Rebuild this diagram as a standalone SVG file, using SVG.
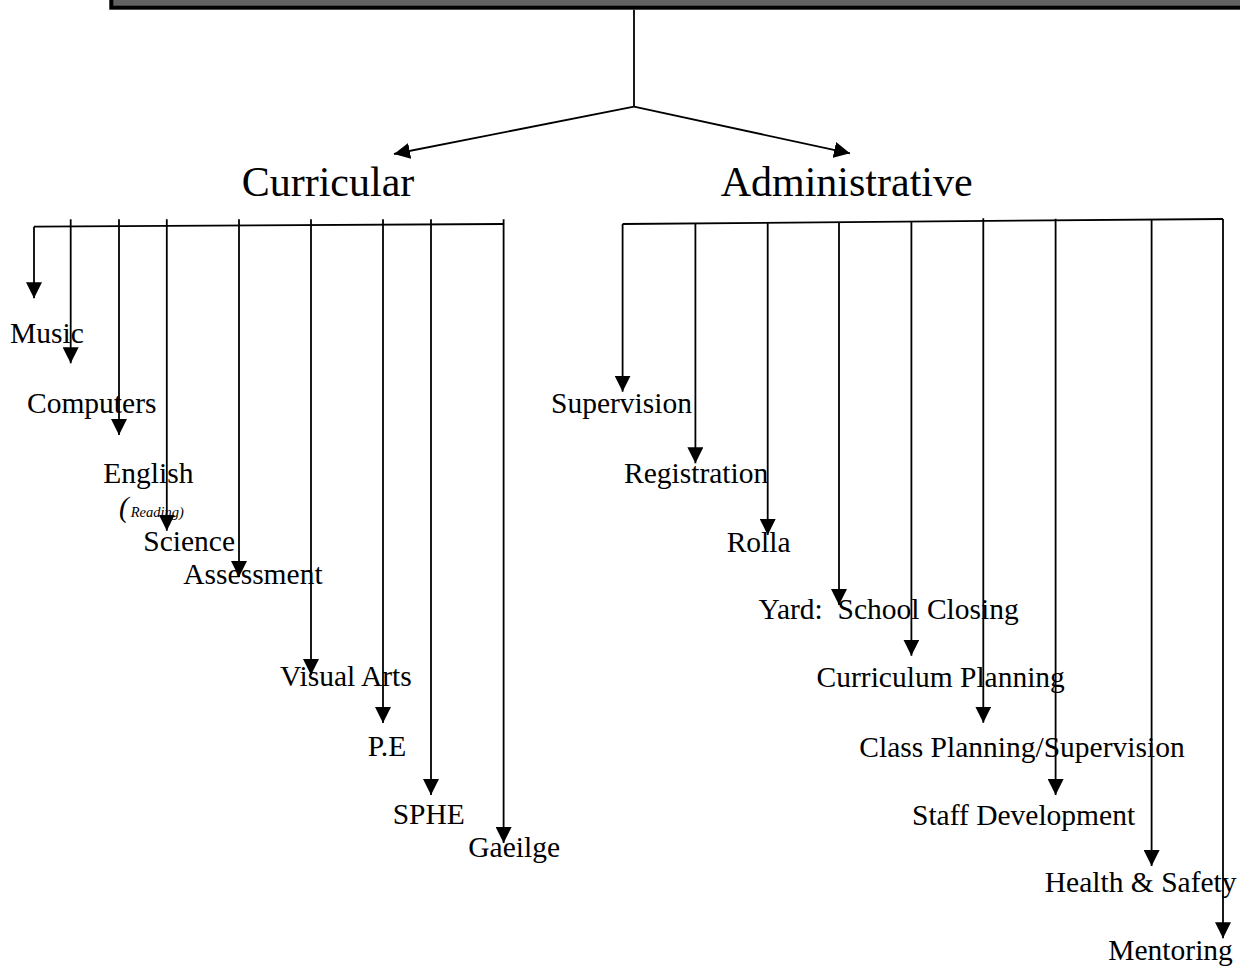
<svg xmlns="http://www.w3.org/2000/svg" width="1240" height="967" viewBox="0 0 1240 967">
<defs>
<style>
.lbl{font-family:"Liberation Serif","Times New Roman",serif;font-size:29.5px;fill:#000}
.big{font-family:"Liberation Serif","Times New Roman",serif;font-size:42px;fill:#000}
.ln{stroke:#000;stroke-width:1.8;fill:none}
.ar{stroke:#000;stroke-width:1.8;fill:none;marker-end:url(#ah)}
</style>
<marker id="ah" markerUnits="userSpaceOnUse" markerWidth="16" markerHeight="16" viewBox="0 0 16 16" refX="16" refY="8" orient="auto">
<path d="M0,0 L16,8 L0,16 z" fill="#000"/>
</marker>
</defs>
<rect width="1240" height="967" fill="#fff"/>
<g id="top-box">
<rect x="111.3" y="-40" width="1160" height="47.7" fill="#616161" stroke="#000" stroke-width="4"/>
</g>
<g id="connectors">
<line class="ln" x1="634" y1="9.7" x2="634" y2="106.7"/>
<line class="ar" x1="634" y1="106.7" x2="394" y2="154"/>
<line class="ar" x1="634" y1="106.7" x2="850" y2="153.3"/>
<line class="ln" x1="34" y1="226.7" x2="503.6" y2="224"/>
<line class="ar" x1="34" y1="226.7" x2="34" y2="298.3"/>
<line class="ar" x1="70.7" y1="219.3" x2="70.7" y2="363.3"/>
<line class="ar" x1="119" y1="219.3" x2="119" y2="435"/>
<line class="ar" x1="166.8" y1="219.3" x2="166.8" y2="530.7"/>
<line class="ar" x1="239" y1="219.3" x2="239" y2="577"/>
<line class="ar" x1="311" y1="219.3" x2="311" y2="675"/>
<line class="ar" x1="383" y1="219.3" x2="383" y2="723"/>
<line class="ar" x1="431" y1="219.3" x2="431" y2="795"/>
<line class="ar" x1="503.6" y1="219.3" x2="503.6" y2="843"/>
<line class="ln" x1="622.6" y1="224" x2="1223" y2="219"/>
<line class="ar" x1="622.6" y1="224" x2="622.6" y2="391.7"/>
<line class="ar" x1="695.4" y1="223.4" x2="695.4" y2="463.3"/>
<line class="ar" x1="767.7" y1="222.8" x2="767.7" y2="535"/>
<line class="ar" x1="839" y1="222.2" x2="839" y2="605"/>
<line class="ar" x1="911.4" y1="221.6" x2="911.4" y2="655.7"/>
<line class="ar" x1="983.3" y1="218.3" x2="983.3" y2="722.7"/>
<line class="ar" x1="1055.6" y1="218.7" x2="1055.6" y2="795"/>
<line class="ar" x1="1151.6" y1="219" x2="1151.6" y2="866"/>
<line class="ar" x1="1223" y1="219" x2="1223" y2="938.3"/>
</g>
<g id="curricular"><text class="big" x="241.7" y="196">Curricular</text></g>
<g id="administrative"><text class="big" x="720.7" y="196">Administrative</text></g>
<g id="music"><text class="lbl" x="10" y="343.3">Music</text></g>
<g id="computers"><text class="lbl" x="27" y="413.3">Computers</text></g>
<g id="english"><text class="lbl" x="103.3" y="483.3">English</text>
<text x="119" y="517" font-family="Liberation Serif, serif" font-style="italic" font-size="29px">(<tspan dx="2" font-size="14.5px">Reading)</tspan></text></g>
<g id="science"><text class="lbl" x="143.3" y="551">Science</text></g>
<g id="assessment"><text class="lbl" x="183.3" y="584.3">Assessment</text></g>
<g id="visual-arts"><text class="lbl" x="280" y="686">Visual Arts</text></g>
<g id="pe"><text class="lbl" x="367.7" y="756">P.E</text></g>
<g id="sphe"><text class="lbl" x="392.7" y="824.3">SPHE</text></g>
<g id="gaeilge"><text class="lbl" x="468.3" y="856.7">Gaeilge</text></g>
<g id="supervision"><text class="lbl" x="551" y="413.3">Supervision</text></g>
<g id="registration"><text class="lbl" x="624" y="483.3">Registration</text></g>
<g id="rolla"><text class="lbl" x="726.7" y="551.7">Rolla</text></g>
<g id="yard"><text class="lbl" x="758.6" y="619.3" xml:space="preserve">Yard:  School Closing</text></g>
<g id="curriculum-planning"><text class="lbl" x="816.6" y="686.7">Curriculum Planning</text></g>
<g id="class-planning"><text class="lbl" x="859.3" y="756.7">Class Planning/Supervision</text></g>
<g id="staff-development"><text class="lbl" x="912" y="825">Staff Development</text></g>
<g id="health-safety"><text class="lbl" x="1044.8" y="891.7">Health &amp; Safety</text></g>
<g id="mentoring"><text class="lbl" x="1108.3" y="960">Mentoring</text></g>
</svg>
